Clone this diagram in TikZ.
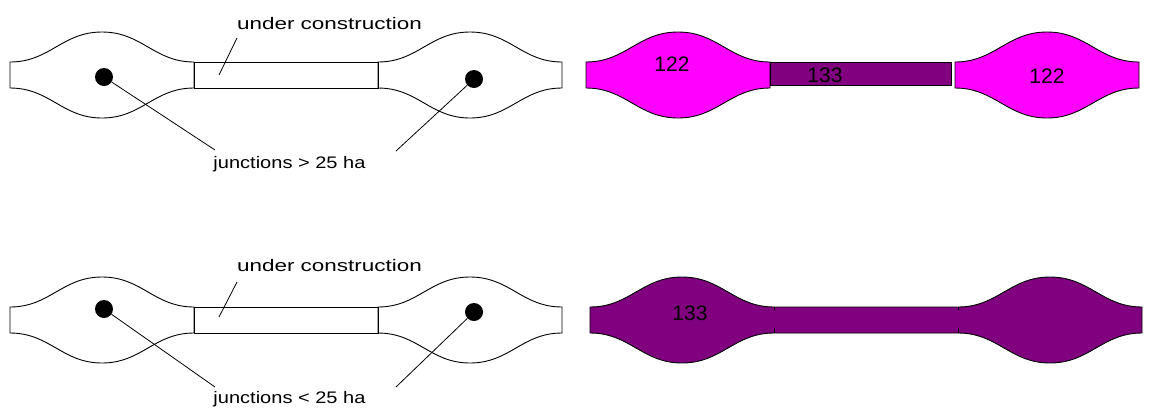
\documentclass[tikz,border=0pt]{standalone}
\usepackage{fontspec}
\setmainfont{Liberation Sans}
\usepackage{graphicx}
\usetikzlibrary{positioning}
\definecolor{roadpink}{HTML}{FF00FF}
\definecolor{roadpurple}{HTML}{800080}
\tikzset{
  outline/.style={draw=black,line width=0.9pt},
  junction/.style={circle,fill=black,inner sep=0pt,minimum size=18pt},
  leader/.style={draw=black,line width=0.8pt},
  callout/.style={font=\fontsize{16.7}{19}\selectfont,inner sep=0pt},
  code/.style={font=\fontsize{21}{24}\selectfont,inner sep=0pt},
  bulb/.pic={
    \path[pic actions] (0,-13) .. controls (40,-13) and (52,-43) .. (92,-43)
      .. controls (132,-43) and (144,-13) .. (184,-13) -- (184,13)
      .. controls (144,13) and (132,43) .. (92,43)
      .. controls (52,43) and (40,13) .. (0,13) -- cycle;
  }
}

\begin{document}
\begin{tikzpicture}[x=1pt,y=-1pt]
  \useasboundingbox (0,0) rectangle (1149,408);
  % left column: white outlines with junction dots
  \foreach \ry in {75,320} {
    \pic[outline,fill=white] at (10,\ry) {bulb};
    \pic[outline,fill=white] at (378,\ry) {bulb};
    \draw[outline] (194,\ry-13) rectangle (378,\ry+13);
  }
  % row 1 callouts
  \node[junction] (jl1) at (104,77) {};
  \node[junction] (jr1) at (474,79) {};
  \node[callout,anchor=base] (big) at (289.5,168)
    {\resizebox{152pt}{\height}{junctions > 25 ha}};
  \coordinate (bigl) at (215,150);
  \coordinate (bigr) at (396,151);
  \draw[leader] (jl1) -- (bigl);
  \draw[leader] (jr1) -- (bigr);
  \node[callout,anchor=base] (uc1) at (329.5,29.5)
    {\resizebox{185pt}{\height}{under construction}};
  \coordinate (uc1a) at (237,38);
  \coordinate (uc1b) at (219,75);
  \draw[leader] (uc1a) -- (uc1b);
  % row 2 callouts
  \node[junction] (jl2) at (104,309) {};
  \node[junction] (jr2) at (474,312) {};
  \node[callout,anchor=base] (small) at (289.5,403)
    {\resizebox{152pt}{\height}{junctions < 25 ha}};
  \coordinate (smalll) at (215,387);
  \coordinate (smallr) at (396,387);
  \draw[leader] (jl2) -- (smalll);
  \draw[leader] (jr2) -- (smallr);
  \node[callout,anchor=base] (uc2) at (329.5,271)
    {\resizebox{185pt}{\height}{under construction}};
  \coordinate (uc2a) at (237,282);
  \coordinate (uc2b) at (219,317);
  \draw[leader] (uc2a) -- (uc2b);
  % right column, row 1: coded pieces
  \pic[outline,fill=roadpink] at (586,75) {bulb};
  \pic[outline,fill=roadpink] at (955,75) {bulb};
  \draw[outline,fill=roadpurple] (770,62) rectangle (951,85);
  \node[code] (c122a) at (672,64) {122};
  \node[code] (c133a) at (825,75) {133};
  \node[code] (c122b) at (1047,76) {122};
  % right column, row 2: merged piece
  \draw[outline,fill=roadpurple] (590,307) .. controls (630,307) and (642,277) .. (682,277)
    .. controls (722,277) and (734,307) .. (774,307) -- (958,307)
    .. controls (998,307) and (1010,277) .. (1050,277)
    .. controls (1090,277) and (1102,307) .. (1142,307) -- (1142,333)
    .. controls (1102,333) and (1090,363) .. (1050,363)
    .. controls (1010,363) and (998,333) .. (958,333) -- (774,333)
    .. controls (734,333) and (722,363) .. (682,363)
    .. controls (642,363) and (630,333) .. (590,333) -- cycle;
  \foreach \tx in {774,958} {
    \draw[line width=0.9pt] (\tx,307) -- (\tx,310);
    \draw[line width=0.9pt] (\tx,333) -- (\tx,328);
  }
  \node[code] (c133b) at (690,313) {133};
\end{tikzpicture}
\end{document}
